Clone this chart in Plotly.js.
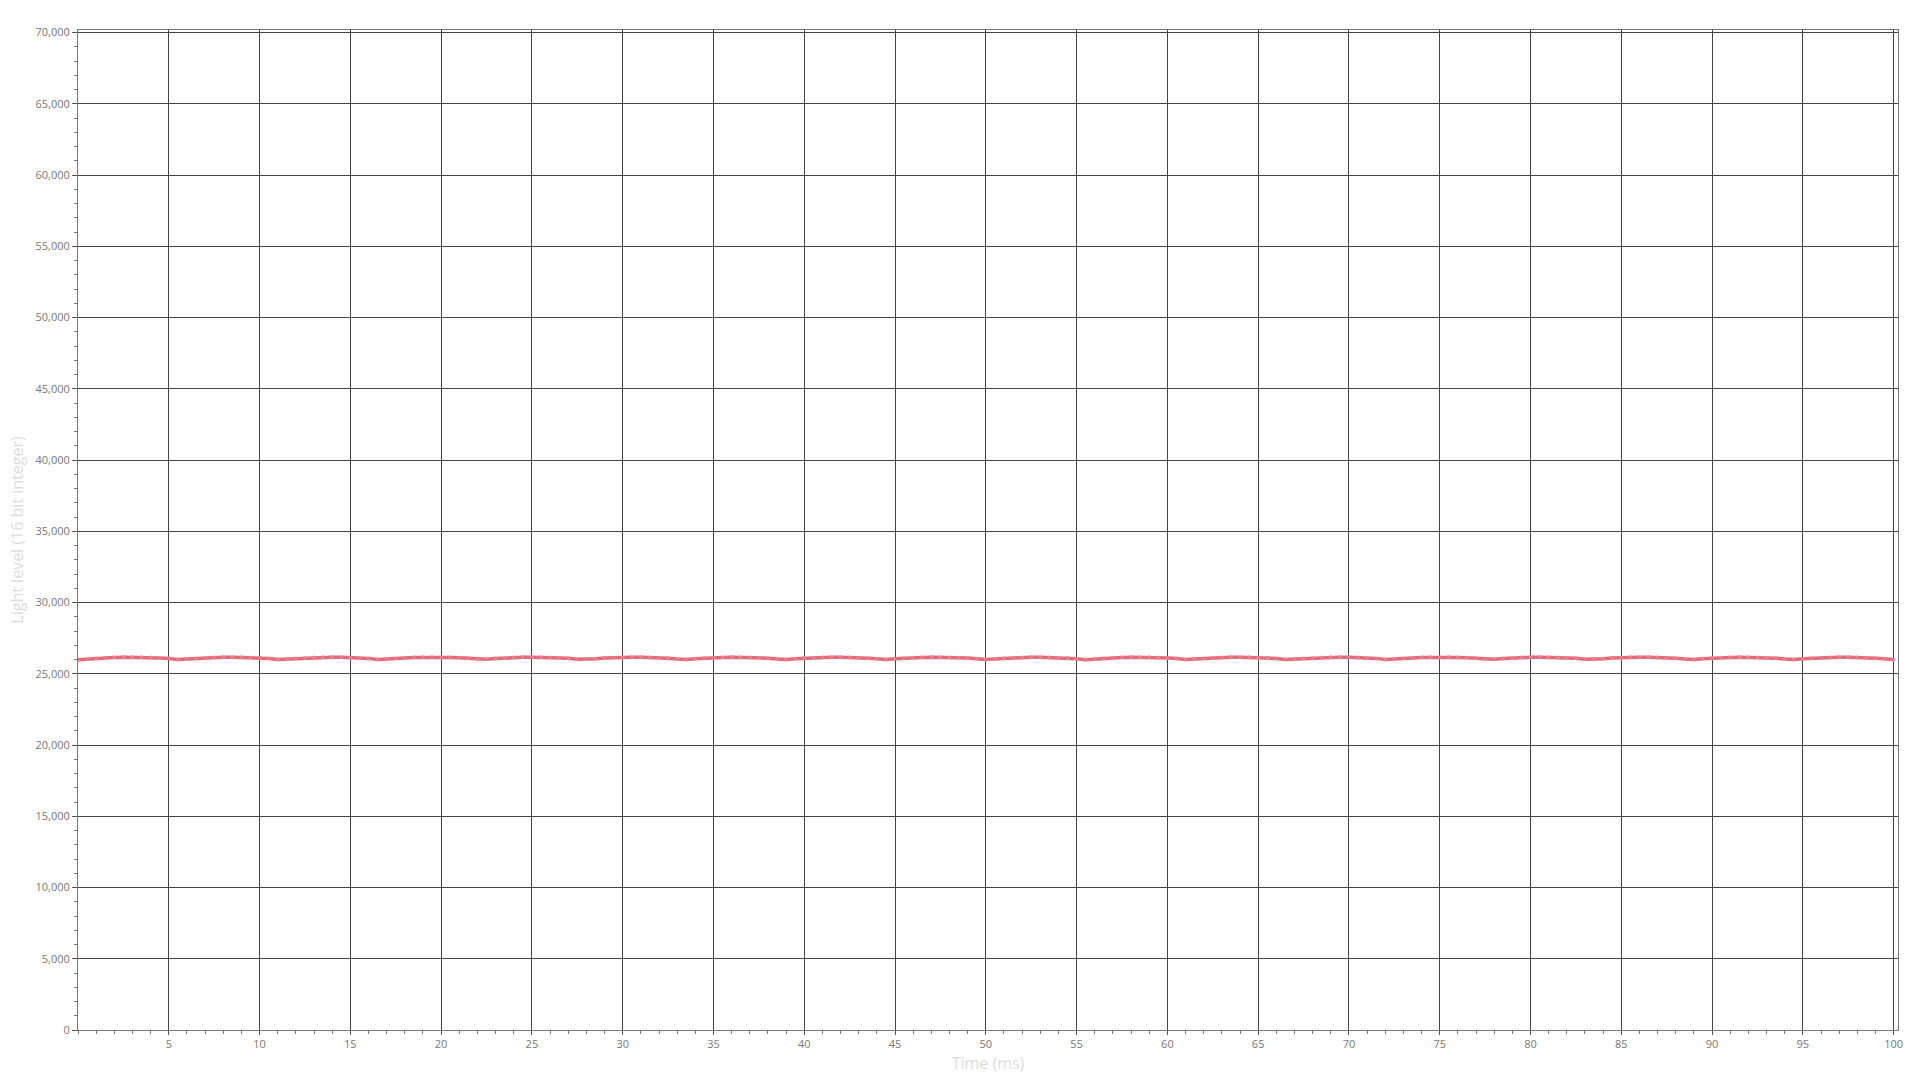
<!DOCTYPE html>
<html>
<head>
<meta charset="utf-8">
<script src="https://cdn.plot.ly/plotly-3.0.1.min.js"></script>
<style>
html, body { margin: 0; padding: 0; background: #ffffff; }
#chart { width: 1920px; height: 1080px; }
</style>
</head>
<body>
<div id="chart"></div>
<script>
// Time (ms)
const timeMs = [
  0, 0.5, 1, 1.5, 2, 2.5, 3, 3.5, 4, 4.5, 5, 5.5,
  6, 6.5, 7, 7.5, 8, 8.5, 9, 9.5, 10, 10.5, 11,
  11.5, 12, 12.5, 13, 13.5, 14, 14.5, 15, 15.5, 16, 16.5,
  17, 17.5, 18, 18.5, 19, 19.5, 20, 20.5, 21, 21.5, 22,
  22.5, 23, 23.5, 24, 24.5, 25, 25.5, 26, 26.5, 27, 27.5,
  28, 28.5, 29, 29.5, 30, 30.5, 31, 31.5, 32, 32.5, 33,
  33.5, 34, 34.5, 35, 35.5, 36, 36.5, 37, 37.5, 38, 38.5,
  39, 39.5, 40, 40.5, 41, 41.5, 42, 42.5, 43, 43.5, 44,
  44.5, 45, 45.5, 46, 46.5, 47, 47.5, 48, 48.5, 49, 49.5,
  50, 50.5, 51, 51.5, 52, 52.5, 53, 53.5, 54, 54.5, 55,
  55.5, 56, 56.5, 57, 57.5, 58, 58.5, 59, 59.5, 60, 60.5, 61,
  61.5, 62, 62.5, 63, 63.5, 64, 64.5, 65, 65.5, 66, 66.5,
  67, 67.5, 68, 68.5, 69, 69.5, 70, 70.5, 71, 71.5, 72,
  72.5, 73, 73.5, 74, 74.5, 75, 75.5, 76, 76.5, 77, 77.5,
  78, 78.5, 79, 79.5, 80, 80.5, 81, 81.5, 82, 82.5, 83,
  83.5, 84, 84.5, 85, 85.5, 86, 86.5, 87, 87.5, 88, 88.5,
  89, 89.5, 90, 90.5, 91, 91.5, 92, 92.5, 93, 93.5, 94,
  94.5, 95, 95.5, 96, 96.5, 97, 97.5, 98, 98.5, 99, 99.5,
  100
];

// Light level (16 bit integer)
const lightLevel = [
  25990, 26040, 26085, 26120, 26145, 26158, 26160, 26152, 26135, 26110, 26070, 25995,
  26035, 26080, 26117, 26143, 26157, 26160, 26153, 26137, 26113, 26075, 26003,
  26030, 26076, 26113, 26140, 26155, 26160, 26154, 26139, 26115, 26080, 26010,
  26025, 26072, 26110, 26138, 26154, 26160, 26155, 26141, 26118, 26085, 26018,
  26020, 26067, 26106, 26135, 26152, 26159, 26156, 26143, 26120, 26088, 26025,
  26015, 26062, 26102, 26132, 26151, 26159, 26157, 26145, 26123, 26092, 26033,
  26010, 26058, 26099, 26130, 26150, 26159, 26157, 26146, 26125, 26095, 26040,
  26005, 26054, 26095, 26127, 26148, 26158, 26158, 26148, 26128, 26098, 26047,
  26000, 26049, 26092, 26125, 26147, 26158, 26158, 26149, 26130, 26102, 26055,
  25995, 26045, 26088, 26122, 26146, 26158, 26159, 26150, 26132, 26105, 26062,
  25990, 26040, 26085, 26120, 26145, 26158, 26160, 26152, 26135, 26110, 26070, 25995,
  26035, 26080, 26117, 26143, 26157, 26160, 26153, 26137, 26113, 26075, 26003,
  26030, 26076, 26113, 26140, 26155, 26160, 26154, 26139, 26115, 26080, 26010,
  26025, 26072, 26110, 26138, 26154, 26160, 26155, 26141, 26118, 26085, 26018,
  26020, 26067, 26106, 26135, 26152, 26159, 26156, 26143, 26120, 26088, 26025,
  26015, 26062, 26102, 26132, 26151, 26159, 26157, 26145, 26123, 26092, 26033,
  26010, 26058, 26099, 26130, 26150, 26159, 26157, 26146, 26125, 26095, 26040,
  26005, 26054, 26095, 26127, 26148, 26158, 26158, 26148, 26128, 26098, 26047,
  26000
];

// Tick labels
const xTickVals = [5, 10, 15, 20, 25, 30, 35, 40, 45, 50, 55, 60, 65, 70, 75, 80, 85, 90, 95, 100];
const yTickVals = [0, 5000, 10000, 15000, 20000, 25000, 30000, 35000, 40000, 45000, 50000, 55000, 60000, 65000, 70000];
const yTickText = ["0", "5,000", "10,000", "15,000", "20,000", "25,000", "30,000", "35,000", "40,000", "45,000", "50,000", "55,000", "60,000", "65,000", "70,000"];

const lineColor = "#e36a7b";

const trace = {
  x: timeMs,
  y: lightLevel,
  type: "scatter",
  mode: "lines+markers",
  line: { color: lineColor, width: 3.5 },
  marker: { color: "rgba(232,130,145,0.8)", size: 4 },
  hoverinfo: "x+y",
  showlegend: false
};

const axisFont = { family: "'Open Sans', 'Noto Sans', sans-serif", size: 11, color: "#777777" };
const titleFont = { family: "'Open Sans', 'Noto Sans', sans-serif", size: 16, color: "#dddddd" };

const layout = {
  width: 1920,
  height: 1080,
  paper_bgcolor: "#ffffff",
  plot_bgcolor: "#ffffff",
  margin: { l: 78, r: 22, t: 30, b: 50, pad: 0 },
  showlegend: false,
  xaxis: {
    range: [0, 100.24],
    tickmode: "array",
    tickvals: xTickVals,
    ticktext: xTickVals.map(String),
    showgrid: true,
    gridcolor: "#444444",
    gridwidth: 1.3,
    zeroline: false,
    showline: true,
    linecolor: "#777777",
    linewidth: 1,
    mirror: true,
    ticks: "outside",
    ticklen: 4,
    tickcolor: "#555555",
    tickfont: axisFont,
    minor: { tickmode: "linear", tick0: 0, dtick: 1, ticks: "outside", ticklen: 3, tickcolor: "#777777", showgrid: false },
    title: { text: "Time (ms)", font: titleFont, standoff: 7 }
  },
  yaxis: {
    range: [0, 70180],
    tickmode: "array",
    tickvals: yTickVals,
    ticktext: yTickText,
    showgrid: true,
    gridcolor: "#444444",
    gridwidth: 1.3,
    zeroline: false,
    showline: true,
    linecolor: "#777777",
    linewidth: 1,
    mirror: true,
    ticks: "outside",
    ticklen: 5,
    tickcolor: "#555555",
    tickfont: axisFont,
    minor: { tickmode: "linear", tick0: 0, dtick: 1000, ticks: "outside", ticklen: 3, tickcolor: "#777777", showgrid: false },
    title: { text: "Light level (16 bit integer)", font: titleFont, standoff: 7 }
  }
};

Plotly.newPlot("chart", [trace], layout, { displayModeBar: false, staticPlot: false });
</script>
</body>
</html>
